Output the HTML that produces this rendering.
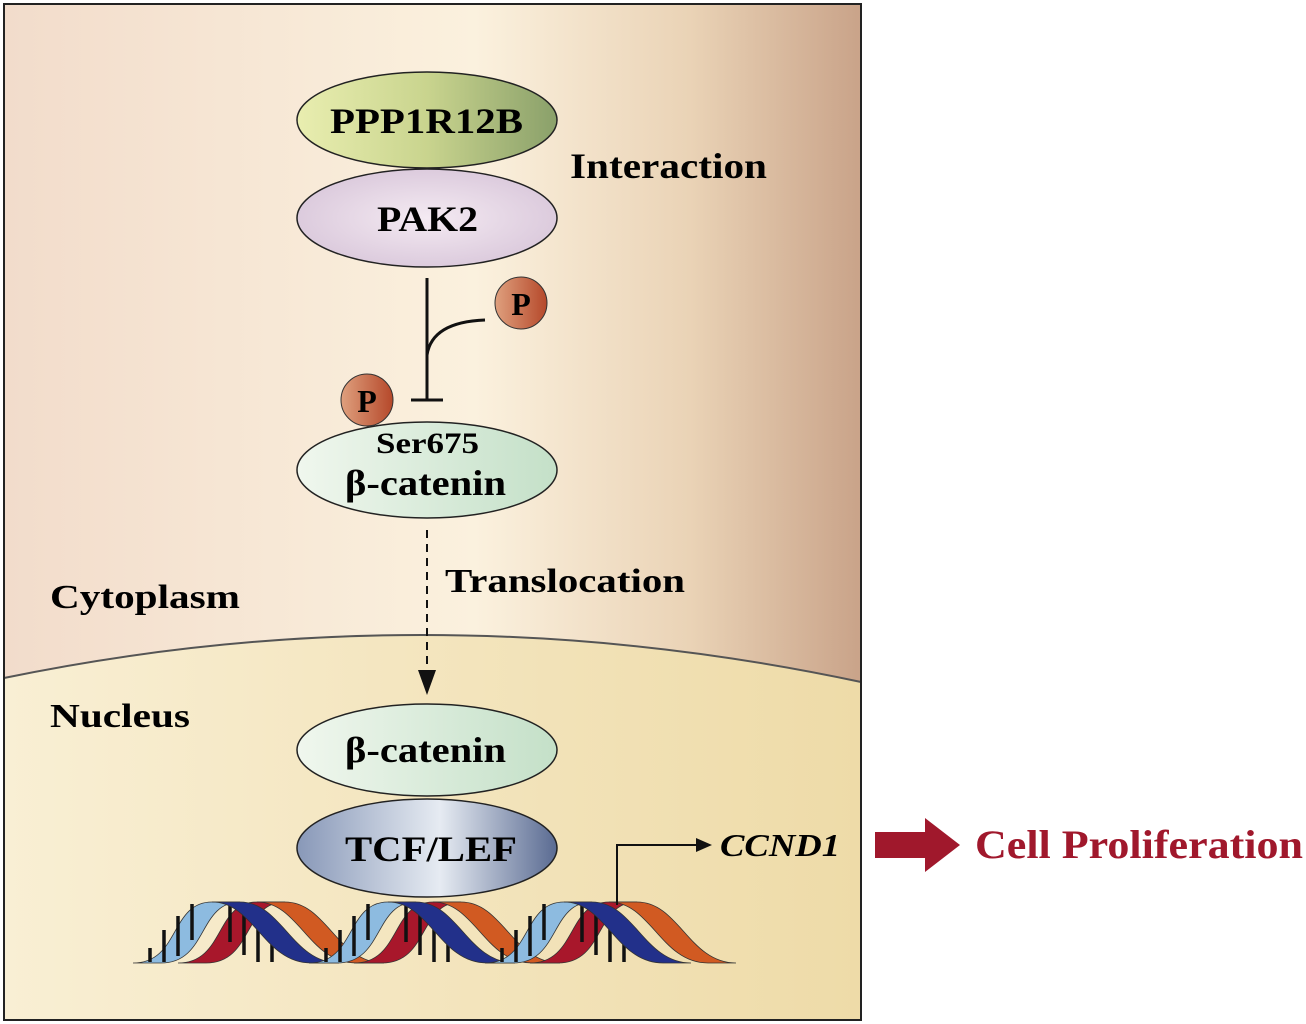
<!DOCTYPE html>
<html><head><meta charset="utf-8"><style>html,body{margin:0;padding:0;background:#fff}svg{display:block}text{font-family:"Liberation Serif",serif;font-weight:bold}</style></head>
<body>
<svg width="1306" height="1024" viewBox="0 0 1306 1024" xmlns="http://www.w3.org/2000/svg">
<defs>
<linearGradient id="cyto" x1="0" x2="1" y1="0" y2="0">
<stop offset="0" stop-color="#f2dccb"/><stop offset="0.55" stop-color="#fbf1de"/><stop offset="0.8" stop-color="#ead3b6"/><stop offset="1" stop-color="#c9a389"/></linearGradient>
<linearGradient id="nuc" x1="0" x2="1" y1="0" y2="0">
<stop offset="0" stop-color="#f9efd4"/><stop offset="1" stop-color="#eedba8"/></linearGradient>
<linearGradient id="ppp" x1="0" x2="1"><stop offset="0" stop-color="#e9eeb0"/><stop offset="0.5" stop-color="#c9d48e"/><stop offset="1" stop-color="#8aa06a"/></linearGradient>
<radialGradient id="pak"><stop offset="0" stop-color="#f4eaf2"/><stop offset="1" stop-color="#dccbdd"/></radialGradient>
<linearGradient id="bcat" x1="0" x2="1"><stop offset="0" stop-color="#f0f7ee"/><stop offset="1" stop-color="#c4e0c8"/></linearGradient>
<linearGradient id="tcf" x1="0" x2="1"><stop offset="0" stop-color="#8898b8"/><stop offset="0.55" stop-color="#e6ebf2"/><stop offset="1" stop-color="#5a6b92"/></linearGradient>
<linearGradient id="pg" x1="0" x2="1"><stop offset="0" stop-color="#dfa07e"/><stop offset="1" stop-color="#b5482a"/></linearGradient>
</defs>
<rect x="4" y="4" width="857" height="1016" fill="url(#cyto)"/>
<path d="M4,678 Q430,590 861,682 L861,1020 L4,1020 Z" fill="url(#nuc)"/>
<path d="M4,678 Q430,590 861,682" fill="none" stroke="#555" stroke-width="2"/>
<rect x="4" y="4" width="857" height="1016" fill="none" stroke="#222" stroke-width="2"/>

<ellipse cx="427" cy="120" rx="130" ry="48" fill="url(#ppp)" stroke="#222" stroke-width="1.5"/>
<text x="330" y="133" font-size="36" textLength="193" lengthAdjust="spacingAndGlyphs">PPP1R12B</text>
<ellipse cx="427" cy="218" rx="130" ry="49" fill="url(#pak)" stroke="#222" stroke-width="1.5"/>
<text x="377" y="231" font-size="36" textLength="101" lengthAdjust="spacingAndGlyphs">PAK2</text>
<text x="570" y="178" font-size="36" textLength="197" lengthAdjust="spacingAndGlyphs">Interaction</text>

<line x1="427" y1="278" x2="427" y2="400" stroke="#111" stroke-width="3"/>
<line x1="411" y1="400" x2="443" y2="400" stroke="#111" stroke-width="3"/>
<path d="M485,320 Q432,322 427,355" fill="none" stroke="#111" stroke-width="3"/>
<circle cx="521" cy="303" r="26" fill="url(#pg)" stroke="#333"/>
<text x="521" y="315" font-size="32" text-anchor="middle">P</text>

<ellipse cx="427" cy="470" rx="130" ry="48" fill="url(#bcat)" stroke="#222" stroke-width="1.5"/>
<circle cx="367" cy="400" r="26" fill="url(#pg)" stroke="#333"/>
<text x="367" y="412" font-size="32" text-anchor="middle">P</text>
<text x="376" y="453" font-size="30" textLength="103" lengthAdjust="spacingAndGlyphs">Ser675</text>
<text x="345" y="495" font-size="36" textLength="161" lengthAdjust="spacingAndGlyphs">β-catenin</text>

<line x1="427" y1="530" x2="427" y2="675" stroke="#111" stroke-width="2" stroke-dasharray="8,6"/>
<path d="M418,670 L436,670 L427,695 Z" fill="#111"/>
<text x="445" y="592" font-size="34" textLength="240" lengthAdjust="spacingAndGlyphs">Translocation</text>
<text x="50" y="608" font-size="34" textLength="190" lengthAdjust="spacingAndGlyphs">Cytoplasm</text>
<text x="50" y="727" font-size="34" textLength="140" lengthAdjust="spacingAndGlyphs">Nucleus</text>

<ellipse cx="427" cy="750" rx="130" ry="46" fill="url(#bcat)" stroke="#222" stroke-width="1.5"/>
<text x="345" y="762" font-size="36" textLength="161" lengthAdjust="spacingAndGlyphs">β-catenin</text>
<ellipse cx="427" cy="848" rx="130" ry="49" fill="url(#tcf)" stroke="#222" stroke-width="1.5"/>
<text x="345" y="861" font-size="36" textLength="172" lengthAdjust="spacingAndGlyphs">TCF/LEF</text>

<g stroke="#333" stroke-width="0.8">
<g id="unit">
<path d="M133,963 C180,963 170,902 212,902 L240,902 C198,902 208,963 161,963 Z" fill="#8dbbe0"/>
<path d="M178,963 C225,963 215,902 257,902 L285,902 C243,902 253,963 206,963 Z" fill="#a8172b"/>
<g stroke="#111" stroke-width="3.5">
<line x1="150" y1="962" x2="150" y2="948"/><line x1="164" y1="962" x2="164" y2="930"/><line x1="178" y1="956" x2="178" y2="916"/><line x1="192" y1="940" x2="192" y2="904"/><line x1="230" y1="904" x2="230" y2="942"/><line x1="244" y1="906" x2="244" y2="955"/><line x1="258" y1="914" x2="258" y2="962"/><line x1="272" y1="935" x2="272" y2="962"/>
</g>
<path d="M212,902 C254,902 264,963 311,963 L339,963 C292,963 282,902 240,902 Z" fill="#22308a"/>
<path d="M257,902 C299,902 309,963 356,963 L384,963 C337,963 327,902 285,902 Z" fill="#d15a22"/>
</g>
<use href="#unit" x="176"/>
<use href="#unit" x="352"/>
</g>

<polyline points="617,905 617,845 700,845" fill="none" stroke="#111" stroke-width="2"/>
<path d="M696,838 L712,845 L696,852 Z" fill="#111"/>
<text x="720" y="856" font-size="32" font-style="italic" textLength="120" lengthAdjust="spacingAndGlyphs">CCND1</text>
<path d="M875,832 L925,832 L925,818 L960,845 L925,872 L925,858 L875,858 Z" fill="#a0182c"/>
<text x="975" y="858" font-size="40" fill="#a0182c" textLength="328" lengthAdjust="spacingAndGlyphs">Cell Proliferation</text>
</svg>
</body></html>
